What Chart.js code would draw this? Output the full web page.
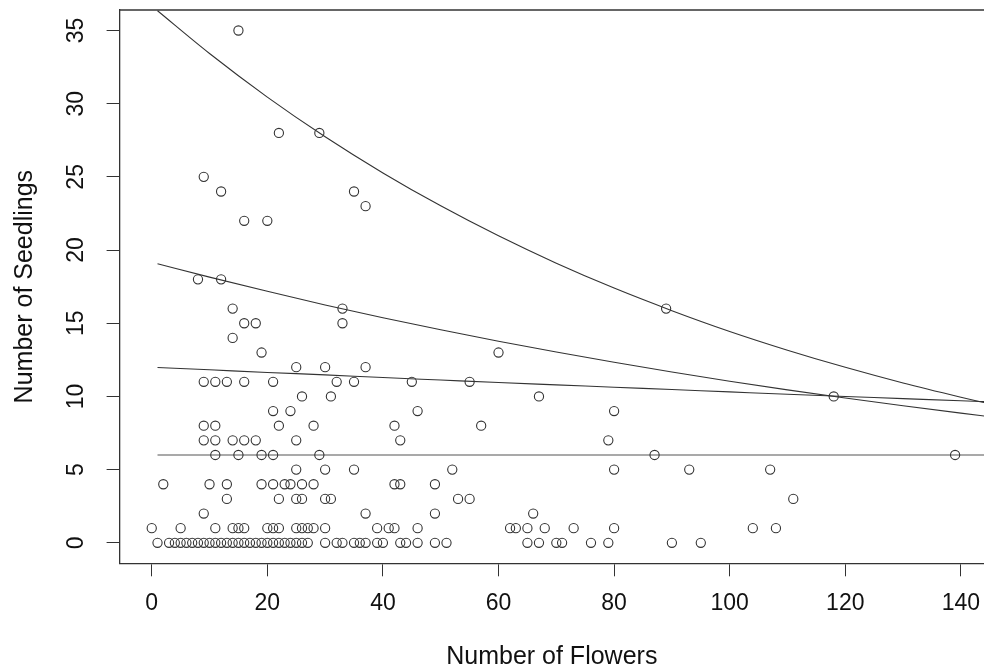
<!DOCTYPE html>
<html><head><meta charset="utf-8">
<script src="https://cdn.jsdelivr.net/npm/chart.js@4"></script>
<style>html,body{margin:0;padding:0;background:#fff;overflow:hidden}#wrap{width:984px;height:667px;position:relative;overflow:hidden}</style>
</head><body><div id="wrap"><canvas id="c" width="984" height="667"></canvas></div>
<script>
// Observed points (number of flowers, number of seedlings), grouped by seedling row
const flowers = [
  15,
  22, 29,
  9,
  12, 35,
  37,
  16, 20,
  8, 12,
  14, 33, 89,
  16, 18, 33,
  14,
  19, 60,
  25, 30, 37,
  9, 11, 13, 16, 21, 32, 35, 45, 55,
  26, 31, 67, 118,
  21, 24, 46, 80,
  9, 11, 22, 28, 42, 57,
  9, 11, 14, 16, 18, 25, 43, 79,
  11, 15, 19, 21, 29, 87, 139,
  25, 30, 35, 52, 80, 93, 107,
  2, 10, 13, 19, 21, 23, 24, 26, 28, 42, 43, 49,
  13, 22, 25, 26, 30, 31, 53, 55, 111,
  9, 37, 49, 66,
  0, 5, 11, 14, 15, 16, 20, 21, 22, 25, 26, 27, 28, 30, 39, 41, 42, 46, 62, 63, 65, 68, 73, 80, 104, 108,
  1, 3, 4, 5, 6, 7, 8, 9, 10, 11, 12, 13, 14, 15, 16, 17, 18, 19, 20, 21, 22, 23, 24, 25, 26, 27,
  30, 32, 33, 35, 36, 37, 39, 40, 43, 44, 46, 49, 51, 65, 67, 70, 71, 76, 79, 90, 95
];
const seedlings = [
  35,
  28, 28,
  25,
  24, 24,
  23,
  22, 22,
  18, 18,
  16, 16, 16,
  15, 15, 15,
  14,
  13, 13,
  12, 12, 12,
  11, 11, 11, 11, 11, 11, 11, 11, 11,
  10, 10, 10, 10,
  9, 9, 9, 9,
  8, 8, 8, 8, 8, 8,
  7, 7, 7, 7, 7, 7, 7, 7,
  6, 6, 6, 6, 6, 6, 6,
  5, 5, 5, 5, 5, 5, 5,
  4, 4, 4, 4, 4, 4, 4, 4, 4, 4, 4, 4,
  3, 3, 3, 3, 3, 3, 3, 3, 3,
  2, 2, 2, 2,
  1, 1, 1, 1, 1, 1, 1, 1, 1, 1, 1, 1, 1, 1, 1, 1, 1, 1, 1, 1, 1, 1, 1, 1, 1, 1,
  0, 0, 0, 0, 0, 0, 0, 0, 0, 0, 0, 0, 0, 0, 0, 0, 0, 0, 0, 0, 0, 0, 0, 0, 0, 0,
  0, 0, 0, 0, 0, 0, 0, 0, 0, 0, 0, 0, 0, 0, 0, 0, 0, 0, 0, 0, 0
];

// Fitted curves
const curveX    = [1, 10, 20, 30, 40, 50, 60, 70, 80, 90, 100, 110, 120, 130, 140, 145];
const curveHigh = [36.35, 33.43, 30.45, 27.74, 25.27, 23.02, 20.97, 19.10, 17.40, 15.86, 14.44, 13.16, 11.99, 10.92, 9.95, 9.49];
const curveMid  = [19.07, 18.15, 17.18, 16.25, 15.38, 14.55, 13.77, 13.03, 12.33, 11.67, 11.04, 10.45, 9.89, 9.36, 8.86, 8.62];
const curveLow  = [11.98, 11.82, 11.64, 11.47, 11.29, 11.12, 10.95, 10.79, 10.63, 10.47, 10.31, 10.15, 10.00, 9.85, 9.70, 9.63];
const flatX = [1, 145];
const flatY = [6, 6];

const xTicks = [0, 20, 40, 60, 80, 100, 120, 140];
const yTicks = [0, 5, 10, 15, 20, 25, 30, 35];
const xLabel = 'Number of Flowers';
const yLabel = 'Number of Seedlings';

const ink = '#333';
const FONT = 'Liberation Sans, Arial, Helvetica, sans-serif';
const pairs = (xs, ys) => xs.map((x, i) => ({x: x, y: ys[i]}));

const framePlugin = {
  id: 'frame',
  afterDraw(chart) {
    const {ctx, chartArea: a} = chart;
    ctx.save();
    ctx.strokeStyle = ink;
    ctx.lineWidth = 1.3;
    ctx.beginPath();
    ctx.moveTo(a.left, a.top);
    ctx.lineTo(a.right + 10, a.top);
    ctx.stroke();
    ctx.restore();
  }
};

const lineDs = (xs, ys, color) => ({
  type: 'line', data: pairs(xs, ys), borderColor: color, borderWidth: 1.1,
  pointRadius: 0, pointHoverRadius: 0, fill: false, cubicInterpolationMode: 'monotone'
});

const noPad = s => { s.paddingTop = 0; s.paddingBottom = 0; s.paddingLeft = 0; s.paddingRight = 0; };

new Chart(document.getElementById('c'), {
  type: 'scatter',
  data: {
    datasets: [
      {
        type: 'scatter', data: pairs(flowers, seedlings), pointStyle: 'circle',
        pointRadius: 4.6, pointHoverRadius: 4.6, pointBorderWidth: 1.1,
        pointBorderColor: ink, pointBackgroundColor: 'rgba(0,0,0,0)'
      },
      lineDs(curveX, curveHigh, '#333'),
      lineDs(curveX, curveMid, '#333'),
      lineDs(curveX, curveLow, '#333'),
      lineDs(flatX, flatY, '#555')
    ]
  },
  options: {
    responsive: false, animation: false, events: [],
    layout: {autoPadding: false, padding: {top: 10, left: 0, right: 0, bottom: 0}},
    plugins: {legend: {display: false}, tooltip: {enabled: false}},
    scales: {
      x: {
        type: 'linear', position: 'bottom', min: -5.56, max: 144.0,
        afterBuildTicks: s => { s.ticks = xTicks.map(v => ({value: v})); },
        afterFit: s => { s.height = 103.7; noPad(s); },
        grid: {drawOnChartArea: false, drawTicks: true, tickLength: 13, color: ink, tickColor: ink, tickWidth: 1},
        border: {display: true, color: ink, width: 1.3},
        ticks: {font: {family: FONT, size: 23}, color: '#111', padding: 14, maxRotation: 0, minRotation: 0, autoSkip: false},
        title: {display: true, text: xLabel, color: '#111', font: {family: FONT, size: 25, lineHeight: 0.83}, padding: {top: 0, bottom: 0}}
      },
      y: {
        type: 'linear', position: 'left', min: -1.4, max: 36.4,
        afterBuildTicks: s => { s.ticks = yTicks.map(v => ({value: v})); },
        afterFit: s => { s.width = 119.6; noPad(s); },
        grid: {drawOnChartArea: false, drawTicks: true, tickLength: 13, color: ink, tickColor: ink, tickWidth: 1},
        border: {display: true, color: ink, width: 1.3},
        ticks: {font: {family: FONT, size: 23}, color: '#111', padding: 17, minRotation: 90, maxRotation: 90, crossAlign: 'center', autoSkip: false},
        title: {display: true, text: yLabel, color: '#111', font: {family: FONT, size: 25, lineHeight: 0.9}, padding: {top: 13.5, bottom: 0}}
      }
    }
  },
  plugins: [framePlugin]
});
</script>
</body></html>
